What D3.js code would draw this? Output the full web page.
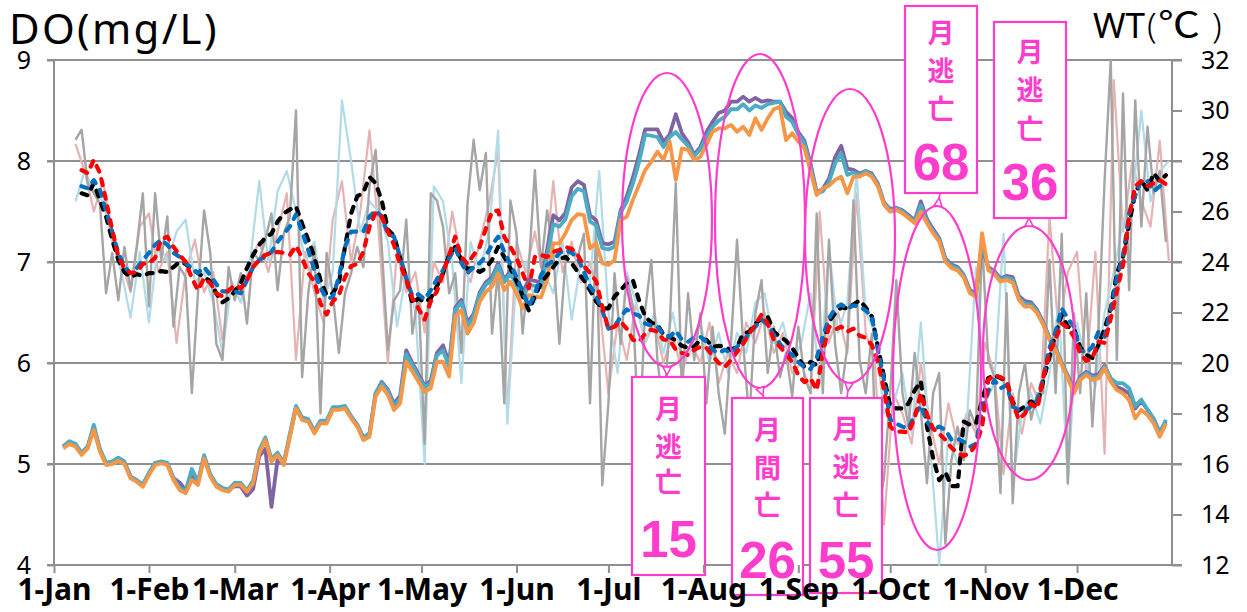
<!DOCTYPE html>
<html>
<head>
<meta charset="utf-8">
<script src="https://cdn.jsdelivr.net/npm/d3@7"></script>
<style>
  html, body { margin: 0; padding: 0; background: #fff; }
  svg { display: block; }
</style>
</head>
<body>
<svg id="chart" width="1247" height="612"></svg>
<script>
// ---- Data ---------------------------------------------------------------
// Year of the record (days are counted from 1 January).
const YEAR_START = new Date(2019, 0, 1);

// Month tick labels along the bottom axis
const monthLabels = ["1-Jan","1-Feb","1-Mar","1-Apr","1-May","1-Jun","1-Jul","1-Aug","1-Sep","1-Oct","1-Nov","1-Dec"];
const doTicks = [4, 5, 6, 7, 8, 9];
const wtTicks = [12, 14, 16, 18, 20, 22, 24, 26, 28, 30, 32];

// Daily DO readings (mg/L), every 2nd day from 8 Jan
const doRawStart = 7, doRawStep = 2;
const doRawGrey = [
  8.21,8.31,7.78,7.68,7.58,6.69,7.09,6.62,7.15,6.72,
  7.15,7.68,6.56,7.68,7.02,7.45,6.36,6.95,6.85,5.7,
  6.69,7.51,7.09,6.19,6.03,6.95,6.62,6.89,6.39,7.09,
  7.02,7.22,7.48,6.72,7.28,7.45,8.5,5.86,6.69,7.15,
  5.5,7.09,6.69,6.1,6.69,6.89,7.15,6.95,7.75,8.11,
  7.15,6.13,6.62,6.72,7.42,6.29,6.69,5.2,7.68,7.61,
  7.35,6.69,6.89,6.1,7.58,8.21,7.71,8.08,6.29,6.92,
  5.6,7.61,7.28,6.29,6.95,7.91,6.95,7.51,7.09,6.19,
  7.02,7.15,7.05,7.28,5.6,7.32,4.79,5.6,6.89,6.19,
  6.85,6.56,5.2,6.52,7.02,6.03,5.53,6.36,7.78,5.7,
  6.69,6.03,6.49,5.6,6.36,5.7,5.3,6.19,7.22,6.19,
  5.44,6.49,6.82,5.9,6.36,5.86,6.1,5.67,6.36,5.86,
  5.7,7.48,5.7,7.22,6.19,5.7,6.16,7.61,6.03,5.7,
  6.29,4.48,4.87,5.7,6.82,5.7,5.37,6.1,5.53,4.81,
  5.7,5.9,4.21,5.04,5.37,5.04,5.53,5.37,7.22,6.03,
  5.86,4.71,6.69,4.61,5.7,6.0,5.44,5.7,5.7,7.02,
  5.7,7.28,4.81,6.49,5.7,6.69,5.37,6.36,7.81,9.0,
  6.03,8.67,6.72,8.6,7.35,8.34,7.68,7.9,7.2
];

// DO readings at the two other stations, every 3rd day from 8 Jan
const doRawAltStart = 7, doRawAltStep = 3;
const doRawLightBlue = [
  7.6,7.9,7.7,7.6,7.2,6.9,6.45,7.1,6.4,7.2,
  7.0,7.3,7.42,6.8,6.9,6.6,6.1,6.8,6.6,7.0,
  7.8,7.0,7.7,7.9,7.5,7.0,7.2,6.6,6.9,8.6,
  8.0,7.3,7.6,7.5,7.2,6.36,6.9,6.5,5.0,7.75,
  7.6,7.0,5.8,7.2,6.9,7.3,8.3,5.4,6.9,7.0,
  6.6,6.9,6.69,7.2,6.43,7.0,6.8,7.9,6.5,5.9,
  6.9,6.6,6.2,6.5,6.1,6.5,6.0,6.13,6.4,6.0,
  6.3,5.9,6.3,6.1,6.6,6.69,6.2,6.4,6.0,6.2,
  6.69,5.8,7.15,6.3,6.6,7.9,6.5,6.3,5.5,5.6,
  5.9,5.3,6.4,5.2,4.0,5.3,5.0,5.4,6.95,5.6,
  5.8,7.28,4.8,5.5,5.7,5.4,5.9,6.6,4.8,6.4,
  6.0,5.77,6.5,6.9,7.4,7.6,8.5,7.6,7.9,8.0
];
const doRawPink = [
  8.17,7.9,7.5,7.8,7.3,7.0,6.7,7.35,7.48,6.9,
  7.1,6.2,6.9,7.22,6.7,6.9,6.23,6.8,6.6,7.0,
  7.2,6.9,7.3,7.68,6.03,7.1,6.7,6.4,7.42,7.8,
  7.0,7.5,8.3,7.3,6.0,7.1,6.7,6.9,6.3,7.0,
  6.8,7.5,7.0,6.8,7.2,7.58,8.1,5.5,7.2,6.9,
  7.3,6.8,7.8,6.9,7.2,6.8,7.0,6.6,5.7,6.4,
  6.03,6.6,6.2,6.4,6.0,6.3,5.9,6.2,6.0,6.4,
  5.8,6.1,5.9,6.4,6.2,6.5,6.1,6.3,5.9,6.0,
  5.7,7.5,6.2,6.5,6.1,7.68,6.3,6.0,4.4,5.7,
  5.5,5.2,6.0,5.4,5.0,5.6,5.2,5.5,5.3,6.2,
  5.9,4.9,5.7,5.3,5.8,5.6,7.45,6.3,6.9,7.1,
  5.9,7.1,5.1,8.8,7.3,8.0,7.6,7.35,8.2,7.0
];

// Running-mean DO (mg/L) per station, every 2nd day from 10 Jan
const doAvgStart = 9, doAvgStep = 2;
const doAvgBlack = [
  7.68,7.66,7.78,7.61,7.45,7.22,7.02,6.9,6.85,6.88,
  6.86,6.89,6.89,6.91,6.9,6.95,7.0,6.98,6.93,6.89,
  6.85,6.81,6.69,6.6,6.64,6.71,6.79,6.94,7.07,7.17,
  7.24,7.28,7.4,7.48,7.52,7.55,7.38,7.22,7.05,6.82,
  6.67,6.69,6.79,7.15,7.48,7.65,7.69,7.84,7.78,7.61,
  7.32,7.26,7.04,6.84,6.59,6.64,6.6,6.64,6.76,6.89,
  7.07,7.15,7.02,6.93,6.94,6.9,6.94,7.02,7.15,7.05,
  6.94,6.81,6.67,6.52,6.66,6.79,6.87,6.95,7.03,7.05,
  6.99,6.9,6.82,6.72,6.61,6.54,6.54,6.66,6.72,6.79,
  6.82,6.62,6.46,6.4,6.38,6.28,6.26,6.22,6.17,6.15,
  6.16,6.23,6.23,6.16,6.17,6.16,6.13,6.16,6.29,6.31,
  6.39,6.44,6.46,6.31,6.26,6.22,6.15,6.05,5.96,6.01,
  5.98,6.19,6.41,6.49,6.55,6.54,6.58,6.62,6.55,6.46,
  6.16,5.86,5.57,5.55,5.55,5.6,5.73,5.82,5.37,5.06,
  4.84,4.92,4.78,4.78,5.42,5.39,5.4,5.63,5.85,5.88,
  5.85,5.82,5.61,5.53,5.57,5.62,5.58,5.83,6.06,6.29,
  6.48,6.36,6.34,6.16,6.08,6.05,6.18,6.34,6.54,6.89,
  7.05,7.38,7.68,7.81,7.71,7.88,7.8,7.86
];
const doAvgBlue = [
  7.75,7.73,7.81,7.71,7.51,7.3,7.09,6.95,6.89,6.94,
  7.02,7.09,7.17,7.22,7.17,7.09,7.05,6.99,6.94,6.89,
  6.95,6.87,6.78,6.71,6.71,6.71,6.69,6.82,6.95,7.02,
  7.05,7.1,7.2,7.28,7.35,7.47,7.3,7.12,6.92,6.74,
  6.64,6.65,6.85,7.15,7.3,7.3,7.3,7.45,7.51,7.45,
  7.28,7.25,7.05,6.84,6.66,6.68,6.63,6.72,6.83,6.92,
  7.04,7.14,6.99,6.89,6.95,6.99,7.06,7.17,7.25,7.1,
  6.98,6.85,6.71,6.56,6.69,6.87,6.97,7.01,7.09,7.12,
  7.09,7.04,6.9,6.76,6.67,6.52,6.34,6.36,6.46,6.53,
  6.49,6.47,6.39,6.37,6.36,6.28,6.26,6.32,6.23,6.21,
  6.25,6.26,6.21,6.13,6.1,6.13,6.1,6.16,6.22,6.29,
  6.36,6.43,6.38,6.28,6.19,6.12,6.08,6.01,5.96,5.94,
  6.05,6.26,6.44,6.54,6.58,6.54,6.57,6.56,6.52,6.46,
  6.13,5.83,5.44,5.4,5.37,5.35,5.49,5.58,5.42,5.34,
  5.37,5.34,5.24,5.25,5.22,5.17,5.2,5.53,5.72,5.83,
  5.75,5.78,5.57,5.53,5.53,5.57,5.63,5.86,6.15,6.31,
  6.54,6.44,6.36,6.13,6.1,6.16,6.31,6.26,6.52,6.84,
  7.05,7.48,7.66,7.81,7.8,7.7,7.75,7.78
];
const doAvgRed = [
  7.91,7.88,8.01,7.88,7.61,7.32,7.05,6.94,6.89,6.9,
  6.98,6.99,7.04,7.22,7.25,7.15,7.07,7.0,6.84,6.72,
  6.84,6.79,6.69,6.66,6.72,6.77,6.74,6.82,6.95,7.02,
  7.07,7.09,7.1,7.09,7.07,7.16,7.04,6.89,6.81,6.59,
  6.48,6.61,6.67,6.85,6.96,6.98,7.1,7.35,7.49,7.45,
  7.3,7.17,6.98,6.82,6.64,6.54,6.43,6.61,6.71,6.89,
  7.07,7.25,7.05,6.98,7.07,7.15,7.33,7.5,7.51,7.25,
  7.15,7.04,6.89,6.74,7.05,7.07,7.05,7.1,7.12,7.15,
  7.13,7.07,6.96,6.89,6.81,6.56,6.34,6.36,6.41,6.34,
  6.23,6.21,6.29,6.33,6.31,6.23,6.23,6.13,6.1,6.08,
  6.13,6.16,6.15,6.07,6.0,5.96,6.03,6.11,6.19,6.29,
  6.38,6.48,6.39,6.23,6.16,6.09,6.01,5.88,5.81,5.85,
  5.73,6.1,6.36,6.33,6.36,6.31,6.34,6.27,6.25,6.18,
  6.01,5.73,5.37,5.32,5.32,5.31,5.46,5.7,5.49,5.35,
  5.3,5.24,5.16,5.11,5.08,5.11,5.19,5.37,5.83,5.88,
  5.86,5.83,5.6,5.44,5.5,5.6,5.55,5.86,6.1,6.24,
  6.39,6.35,6.26,6.1,6.02,6.05,6.21,6.2,6.44,6.71,
  6.97,7.45,7.75,7.8,7.75,7.78,7.81,7.77
];

// Water temperature (°C) per station, every 2nd day from 4 Jan
const wtStart = 3, wtStep = 2;
const wtPurple = [
  16.67,16.84,16.74,16.41,16.67,17.45,16.55,16.02,16.06,16.18,
  16.05,15.5,15.36,15.16,15.62,16.02,16.09,16.02,15.44,15.27,
  14.95,15.5,15.25,16.3,15.56,15.17,15.04,14.97,15.12,15.1,
  14.75,15.0,16.3,16.6,14.3,16.2,16.0,17.1,18.25,17.8,
  17.72,17.26,17.66,17.66,18.2,18.2,18.26,17.88,17.55,17.05,
  17.2,18.8,19.25,18.95,18.4,18.7,20.5,20.0,19.55,19.1,
  19.3,20.4,20.7,20.0,22.2,22.5,21.6,21.95,22.8,23.2,
  23.4,23.95,23.3,23.65,23.2,22.8,23.3,23.25,23.2,24.5,
  25.85,25.65,25.95,26.95,27.2,27.05,25.85,25.65,24.75,24.7,
  24.8,26.05,26.6,27.35,28.25,29.25,29.25,29.25,28.75,29.05,
  29.85,29.1,28.75,28.25,28.55,29.15,29.55,29.9,30.0,30.35,
  30.35,30.55,30.35,30.5,30.35,30.4,30.35,30.35,29.95,29.7,
  29.15,28.8,27.9,26.75,26.9,27.3,28.15,28.6,27.7,27.65,
  27.5,27.6,27.5,27.1,26.35,26.1,26.15,26.05,25.85,25.65,
  26.4,25.7,25.3,24.95,24.15,23.9,23.8,23.5,22.9,22.75,
  24.6,23.8,23.65,23.35,23.45,23.4,22.65,22.45,22.4,22.1,
  21.6,21.0,20.6,20.0,19.5,18.95,19.45,19.65,19.5,19.55,
  19.9,19.35,19.05,18.95,18.8,18.2,18.5,18.15,17.8,17.25,
  17.7
];
const wtTeal = [
  16.7,16.9,16.8,16.45,16.7,17.55,16.6,16.05,16.1,16.25,
  16.1,15.5,15.35,15.2,15.65,16.05,16.1,16.05,15.45,15.05,
  14.95,15.8,15.3,16.35,15.6,15.2,15.05,15.0,15.25,15.25,
  14.95,15.35,16.55,17.05,16.2,16.45,16.05,17.2,18.3,17.85,
  17.78,17.32,17.72,17.72,18.25,18.25,18.3,17.9,17.55,17.05,
  17.2,18.8,19.2,18.9,18.3,18.6,20.35,19.9,19.45,19.05,
  19.2,20.3,20.5,19.85,22.1,22.4,21.45,21.85,22.7,23.1,
  23.3,23.85,23.2,23.55,23.1,22.6,23.1,23.05,23.0,24.2,
  25.5,25.4,25.7,26.6,26.9,26.8,25.6,25.45,24.55,24.5,
  24.6,25.95,26.4,27.1,27.95,29.05,29.0,28.95,28.55,28.95,
  29.15,28.85,28.6,28.2,28.45,28.95,29.35,29.6,29.75,30.05,
  30.05,30.25,30.0,30.2,30.1,30.25,30.3,30.35,29.75,29.55,
  29.05,28.7,27.8,26.7,26.8,27.15,27.9,28.3,27.45,27.55,
  27.45,27.6,27.45,27.05,26.32,26.06,26.13,26.0,25.8,25.6,
  26.25,25.62,25.22,24.9,24.1,23.84,23.75,23.47,22.84,22.7,
  24.8,23.75,23.6,23.3,23.38,23.3,22.58,22.35,22.32,22.05,
  21.57,20.97,20.57,19.98,19.46,18.9,19.4,19.6,19.42,19.47,
  19.88,19.4,19.2,19.2,19.0,18.3,18.55,18.15,17.78,17.22,
  17.75
];
const wtOrange = [
  16.62,16.79,16.69,16.36,16.62,17.35,16.49,15.96,16.0,16.13,
  16.0,15.43,15.3,15.1,15.56,15.96,16.03,15.96,15.37,14.97,
  14.84,15.37,15.17,16.22,15.5,15.1,14.97,14.9,15.17,15.17,
  14.9,15.23,16.42,16.95,16.1,16.36,15.96,17.08,18.2,17.74,
  17.68,17.21,17.61,17.61,18.14,18.14,18.2,17.81,17.48,16.95,
  17.08,18.67,19.06,18.73,18.14,18.4,20.05,19.66,19.26,18.86,
  19.0,20.05,20.05,19.46,21.84,22.1,21.17,21.57,22.43,22.82,
  23.02,23.55,22.89,23.22,22.76,22.17,22.69,22.63,22.6,23.29,
  24.74,24.74,25.14,25.66,25.9,25.86,24.54,24.74,23.95,23.88,
  24.08,25.66,25.8,26.46,27.05,27.64,27.97,28.37,28.04,28.77,
  27.25,28.5,28.44,28.04,28.17,28.63,29.16,29.29,29.29,29.43,
  29.16,29.36,29.03,29.69,29.23,29.69,30.05,30.15,28.83,29.1,
  28.77,28.5,27.58,26.65,26.92,27.01,27.25,27.38,26.72,27.38,
  27.38,27.51,27.38,26.98,26.26,25.99,26.06,25.93,25.73,25.53,
  25.99,25.53,25.14,24.81,24.01,23.75,23.66,23.39,22.76,22.63,
  25.14,23.68,23.52,23.22,23.29,23.18,22.5,22.23,22.23,21.97,
  21.5,20.91,20.51,19.92,19.39,18.8,19.33,19.52,19.33,19.39,
  19.79,19.26,18.93,18.8,18.53,17.81,18.14,17.94,17.61,17.08,
  17.6
];

// Escape / death counts written in the call-out boxes
const calloutWords = ["月逃亡", "月間亡", "月逃亡", "月逃亡", "月逃亡"];
const calloutCounts = [15, 26, 55, 68, 36];

// ---- Layout -------------------------------------------------------------
const plot = { left: 54, right: 1172, top: 60, bottom: 565 };
const GRID = "#8f8f8f";
const MAGENTA = "#ff3ccc";
const SANS = "'Noto Sans', 'DejaVu Sans', sans-serif";

const svg = d3.select("#chart");

const x = d3.scaleTime()
  .domain([YEAR_START, d3.timeYear.offset(YEAR_START, 1)])
  .range([plot.left, plot.right]);
const yDO = d3.scaleLinear().domain([4, 9]).range([plot.bottom, plot.top]);
const yWT = d3.scaleLinear().domain([12, 32]).range([plot.bottom, plot.top]);

const asPoints = (values, startDay, step) =>
  values.map((v, i) => ({ date: d3.timeDay.offset(YEAR_START, startDay + i * step), v }));

// ---- Grid and axes ------------------------------------------------------
const gridG = svg.append("g");
gridG.selectAll("line.grid")
  .data(doTicks)
  .join("line")
  .attr("x1", plot.left - 7).attr("x2", plot.right + 10)
  .attr("y1", d => yDO(d)).attr("y2", d => yDO(d))
  .attr("stroke", GRID).attr("stroke-width", 2);

[plot.left, plot.right].forEach(px => {
  gridG.append("line")
    .attr("x1", px).attr("x2", px)
    .attr("y1", plot.top).attr("y2", plot.bottom)
    .attr("stroke", GRID).attr("stroke-width", 2);
});

// left DO axis
const leftAxis = svg.append("g")
  .attr("transform", `translate(${plot.left},0)`)
  .call(d3.axisLeft(yDO).tickValues(doTicks).tickSize(7).tickPadding(16).tickFormat(d3.format("d")));
leftAxis.select(".domain").remove();
leftAxis.selectAll("line").attr("stroke", GRID).attr("stroke-width", 2);
leftAxis.selectAll("text")
  .attr("font-family", SANS).attr("font-size", 25).attr("fill", "#000");

// right WT axis
const rightAxis = svg.append("g")
  .attr("transform", `translate(${plot.right},0)`)
  .call(d3.axisRight(yWT).tickValues(wtTicks).tickSize(10).tickPadding(19).tickFormat(d3.format("d")));
rightAxis.select(".domain").remove();
rightAxis.selectAll("line").attr("stroke", GRID).attr("stroke-width", 2);
rightAxis.selectAll("text")
  .attr("font-family", SANS).attr("font-size", 25).attr("fill", "#000");

// bottom date axis
const monthTicks = d3.range(12).map(m => d3.timeMonth.offset(YEAR_START, m));
const bottomAxis = svg.append("g")
  .attr("transform", `translate(0,${plot.bottom})`)
  .call(d3.axisBottom(x).tickValues(monthTicks).tickSize(8).tickPadding(6)
    .tickFormat((d, i) => monthLabels[i]));
bottomAxis.select(".domain").remove();
bottomAxis.selectAll("line").attr("stroke", GRID).attr("stroke-width", 2);
bottomAxis.selectAll("text")
  .attr("font-family", SANS).attr("font-weight", "bold")
  .attr("font-size", 30).attr("fill", "#000");

// ---- Series -------------------------------------------------------------
const lineDO = d3.line().x(d => x(d.date)).y(d => yDO(d.v));
const lineWT = d3.line().x(d => x(d.date)).y(d => yWT(d.v));

const seriesG = svg.append("g").attr("fill", "none").attr("stroke-linejoin", "round");

const rawSeries = [
  { values: doRawPink, start: doRawAltStart, step: doRawAltStep, color: "#e6b3b3", width: 2.2 },
  { values: doRawLightBlue, start: doRawAltStart, step: doRawAltStep, color: "#b0dbe7", width: 2.2 },
  { values: doRawGrey, start: doRawStart, step: doRawStep, color: "#a5a5a5", width: 2.4 }
];
rawSeries.forEach(s => {
  seriesG.append("path")
    .datum(asPoints(s.values, s.start, s.step))
    .attr("d", lineDO)
    .attr("stroke", s.color).attr("stroke-width", s.width);
});

const wtSeries = [
  { values: wtPurple, color: "#8064a2" },
  { values: wtTeal, color: "#4bacc6" },
  { values: wtOrange, color: "#f79646" }
];
wtSeries.forEach(s => {
  seriesG.append("path")
    .datum(asPoints(s.values, wtStart, wtStep))
    .attr("d", lineWT)
    .attr("stroke", s.color).attr("stroke-width", 3.8);
});

const avgSeries = [
  { values: doAvgBlack, color: "#000000" },
  { values: doAvgBlue, color: "#0070c0" },
  { values: doAvgRed, color: "#ff0000" }
];
avgSeries.forEach(s => {
  seriesG.append("path")
    .datum(asPoints(s.values, doAvgStart, doAvgStep))
    .attr("d", lineDO)
    .attr("stroke", s.color).attr("stroke-width", 4.2)
    .attr("stroke-dasharray", "6,8").attr("stroke-linecap", "round");
});

// ---- Axis titles --------------------------------------------------------
svg.append("text")
  .attr("x", 9).attr("y", 44)
  .attr("font-family", SANS)
  .attr("font-size", 42).attr("letter-spacing", 2.3).attr("fill", "#000")
  .text("DO(mg/L)");

// right-hand title: "WT" followed by the unit in parentheses
const wtTitle = svg.append("g").attr("fill", "#000");
wtTitle.append("text")
  .attr("x", 1093).attr("y", 38)
  .attr("font-family", SANS).attr("font-size", 35)
  .text("WT");
wtTitle.append("text")
  .attr("x", 1147).attr("y", 38)
  .attr("font-family", SANS).attr("font-size", 35).attr("font-weight", 300)
  .text("(");
wtTitle.append("text")
  .attr("x", 1158).attr("y", 38)
  .attr("font-family", "'Noto Sans CJK JP', sans-serif").attr("font-size", 36)
  .attr("textLength", 42).attr("lengthAdjust", "spacingAndGlyphs")
  .text("℃");
wtTitle.append("text")
  .attr("x", 1212).attr("y", 38)
  .attr("font-family", SANS).attr("font-size", 35).attr("font-weight", 300)
  .text(")");

// ---- Call-outs ----------------------------------------------------------
const annG = svg.append("g");

const ellipses = [
  { cx: 667, cy: 220, rx: 45, ry: 147 },
  { cx: 760, cy: 221, rx: 45, ry: 167 },
  { cx: 850, cy: 236, rx: 45, ry: 147 },
  { cx: 937, cy: 378, rx: 44, ry: 172 },
  { cx: 1029, cy: 353, rx: 46, ry: 127 }
];
annG.selectAll("ellipse")
  .data(ellipses)
  .join("ellipse")
  .attr("cx", d => d.cx).attr("cy", d => d.cy)
  .attr("rx", d => d.rx).attr("ry", d => d.ry)
  .attr("fill", "none").attr("stroke", MAGENTA).attr("stroke-width", 2.2);

const boxes = [
  { x: 632, y: 377, w: 73, h: 198, chars: [407, 445, 480], num: 557 },
  { x: 732, y: 398, w: 71, h: 197, chars: [428, 466, 503], num: 578 },
  { x: 810, y: 398, w: 72, h: 195, chars: [427, 465, 503], num: 578 },
  { x: 905, y: 6, w: 72, h: 187, chars: [31, 69, 107], num: 180 },
  { x: 994, y: 22, w: 72, h: 196, chars: [50, 88, 127], num: 200 }
];

// connectors: from ellipse edge to box edge, with an open triangle head
const connectors = [
  { from: [667, 367], to: [667, 377] },
  { from: [760, 388], to: [764, 398] },
  { from: [849, 383], to: [847, 398] },
  { from: [938, 206], to: [940, 193] },
  { from: [1029, 226], to: [1029, 218] }
];
connectors.forEach(c => {
  const [x0, y0] = c.from, [x1, y1] = c.to;
  annG.append("line")
    .attr("x1", x0).attr("y1", y0).attr("x2", x1).attr("y2", y1)
    .attr("stroke", MAGENTA).attr("stroke-width", 1.6);
  const ang = Math.atan2(y1 - y0, x1 - x0);
  const len = 8, half = 4;
  const tip = [x0 + Math.cos(ang) * len, y0 + Math.sin(ang) * len];
  const b1 = [x0 - Math.sin(ang) * half, y0 + Math.cos(ang) * half];
  const b2 = [x0 + Math.sin(ang) * half, y0 - Math.cos(ang) * half];
  annG.append("polygon")
    .attr("points", [tip, b1, b2].map(p => p.join(",")).join(" "))
    .attr("fill", "#fff").attr("stroke", MAGENTA).attr("stroke-width", 1.6);
});

boxes.forEach((b, i) => {
  const g = annG.append("g");
  g.append("rect")
    .attr("x", b.x).attr("y", b.y).attr("width", b.w).attr("height", b.h)
    .attr("fill", "#fff").attr("stroke", MAGENTA).attr("stroke-width", 2.2);
  const cx = b.x + b.w / 2;
  Array.from(calloutWords[i]).forEach((ch, k) => {
    g.append("text")
      .attr("x", cx).attr("y", b.chars[k])
      .attr("text-anchor", "middle").attr("dominant-baseline", "central")
      .attr("font-family", "'Noto Sans CJK JP', sans-serif")
      .attr("font-size", 27).attr("font-weight", 700)
      .attr("fill", MAGENTA)
      .text(ch);
  });
  g.append("text")
    .attr("x", cx).attr("y", b.num)
    .attr("text-anchor", "middle")
    .attr("font-family", "'Liberation Sans', Arial, sans-serif")
    .attr("font-size", 51).attr("font-weight", "bold")
    .attr("fill", MAGENTA)
    .text(calloutCounts[i]);
});

// month labels stay readable on top of the call-out boxes
bottomAxis.raise();
</script>
</body>
</html>
